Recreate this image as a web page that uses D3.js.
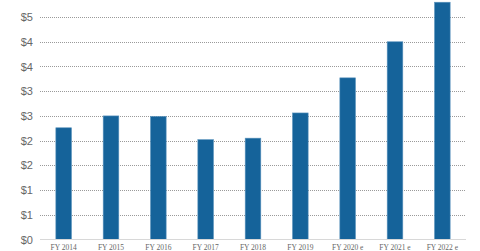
<!DOCTYPE html>
<html><head><meta charset="utf-8">
<script src="https://cdn.jsdelivr.net/npm/d3@7"></script>
<style>body{margin:0;background:#fff}svg{display:block}</style>
</head><body>
<svg id="c" width="480" height="251"></svg>
<script>
const categories = ["FY 2014","FY 2015","FY 2016","FY 2017","FY 2018","FY 2019","FY 2020 e","FY 2021 e","FY 2022 e"];
const values = [2.26, 2.50, 2.49, 2.02, 2.05, 2.56, 3.27, 4.00, 4.80];
const yTicks = [0, 0.5, 1, 1.5, 2, 2.5, 3, 3.5, 4, 4.5];

(function () {
const svg = d3.select("#c");
const mLeft = 40, mRight = 466, mTop = 0, mBottom = 239.5;
const x = d3.scaleBand().domain(categories).range([mLeft, mRight]).padding(0);
const y = d3.scaleLinear().domain([0, 4.845]).range([mBottom, mTop]);

// gridlines
svg.append("g").selectAll("line").data(yTicks.filter(d => d > 0)).join("line")
  .attr("x1", mLeft).attr("x2", mRight)
  .attr("y1", d => Math.round(y(d)) + 0.5).attr("y2", d => Math.round(y(d)) + 0.5)
  .attr("stroke", "#9a9a9a").attr("stroke-width", 1).attr("stroke-dasharray", "1,1");

// y labels
const yAxis = d3.axisLeft(y).tickValues(yTicks).tickSize(0).tickPadding(7)
  .tickFormat(d => "$" + Math.round(d + 1e-9));
const yg = svg.append("g").attr("transform", `translate(${mLeft},0)`).call(yAxis);
yg.select(".domain").remove();
yg.selectAll("text")
  .attr("fill", "#666").style("font-family", "Arial, 'Liberation Sans', sans-serif").style("font-size", "11px");

// bars
const bw = x.step() * 0.33;
svg.append("g").selectAll("rect").data(values).join("rect")
  .attr("x", (d, i) => x(categories[i]) + x.bandwidth() / 2 - bw / 2)
  .attr("width", bw)
  .attr("y", d => y(d))
  .attr("height", d => mBottom - y(d))
  .attr("fill", "#15639a").attr("stroke", "#5a93bd").attr("stroke-width", 0.6);

// baseline
svg.append("line").attr("x1", mLeft).attr("x2", mRight).attr("y1", mBottom).attr("y2", mBottom)
  .attr("stroke", "#d8d8d8").attr("stroke-width", 1);

// x labels
const xAxis = d3.axisBottom(x).tickSize(0).tickPadding(5);
const xg = svg.append("g").attr("transform", `translate(0,${mBottom})`).call(xAxis);
xg.select(".domain").remove();
xg.selectAll("text").attr("fill", "#666")
  .style("font-family", "'Liberation Serif', 'Times New Roman', serif").style("font-size", "7.5px");
})();
</script>
</body></html>
